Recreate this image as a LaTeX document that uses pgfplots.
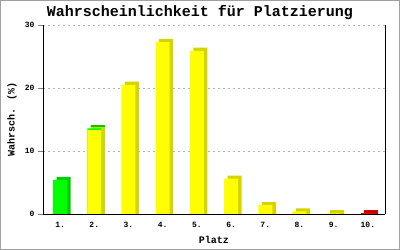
\documentclass[border=0pt]{standalone}
\usepackage{pgfplots}
\pgfplotsset{compat=1.18}
\usepackage{fontspec}
\setmainfont{Liberation Mono}
\definecolor{yel}{HTML}{FFFF00}
\definecolor{dyel}{HTML}{D4D400}
\definecolor{grn}{HTML}{00FF00}
\definecolor{dgrn}{HTML}{00CC00}
\definecolor{rd}{HTML}{FF0000}
\definecolor{drd}{HTML}{CC0000}
\definecolor{frame}{HTML}{A0A0A0}
\begin{document}
\begin{tikzpicture}
\begin{axis}[
  scale only axis,
  width=342pt, height=189pt,
  xmin=0.5, xmax=10.5, ymin=0, ymax=30,
  axis x line*=bottom, axis y line*=box,
  xtick={1,...,10},
  xticklabels={1.,2.,3.,4.,5.,6.,7.,8.,9.,10.},
  ytick={0,10,20,30},
  ytick pos=left,
  tick align=outside,
  major tick length=5pt,
  x tick style={draw=none},
  ymajorgrids,
  grid style={dash pattern=on 2pt off 3pt, black!30},
  /pgf/number format/assume math mode=true,
  xticklabel style={font=\fontsize{8}{9}\selectfont\bfseries, yshift=0pt},
  yticklabel style={font=\fontsize{8}{9}\selectfont\bfseries},
  title={\textbf{Wahrscheinlichkeit für Platzierung}},
  every axis title/.style={font=\fontsize{15}{17}\selectfont, at={(axis description cs:0.459,1)}, anchor=center, yshift=12pt},
  xlabel={\textbf{Platz}},
  xlabel style={font=\fontsize{13}{15}\selectfont},
  every axis x label/.style={at={(axis description cs:0.5,0)}, anchor=center, yshift=-26pt},
  ylabel={\textbf{Wahrsch. (\%)}},
  ylabel style={font=\fontsize{12}{14}\selectfont},
  every axis y label/.style={at={(axis description cs:-0.0906,0.5)}, rotate=90, anchor=center},
  ybar, bar width=14pt,
  axis line style={black, line width=0.8pt},
  clip=false,
]
% shadows (3D depth)
\addplot[draw=none, fill=dgrn, bar shift=3.5pt] coordinates {(1,5.9) (2,14.1)};
\addplot[draw=none, fill=dyel, bar shift=3.5pt] coordinates {(2,13.8) (3,21.0) (4,27.8) (5,26.4) (6,6.1) (7,1.9) (8,0.9) (9,0.6)};
\addplot[draw=none, fill=drd, bar shift=3.5pt] coordinates {(10,0.6)};
% front faces
\addplot[draw=none, fill=grn, bar shift=0pt] coordinates {(1,5.4) (2,13.6)};
\addplot[draw=none, fill=yel, bar shift=0pt] coordinates {(2,13.3) (3,20.5) (4,27.3) (5,25.9) (6,5.6) (7,1.4) (8,0.4) (9,0.1)};
\addplot[draw=none, fill=rd, bar shift=0pt] coordinates {(10,0.1)};
\draw[black, line width=0.8pt] (rel axis cs:0,0) -- (rel axis cs:1,0);
\coordinate (SW) at (rel axis cs:0,0);
\coordinate (NE) at (rel axis cs:1,1);
\end{axis}
\pgfresetboundingbox
\path[use as bounding box] ([shift={(-43pt,-36pt)}]SW) rectangle ([shift={(15pt,25pt)}]NE);
\draw[frame, line width=1pt] ([shift={(-42.5pt,-35.5pt)}]SW) rectangle ([shift={(14.5pt,24.5pt)}]NE);
\end{tikzpicture}
\end{document}
